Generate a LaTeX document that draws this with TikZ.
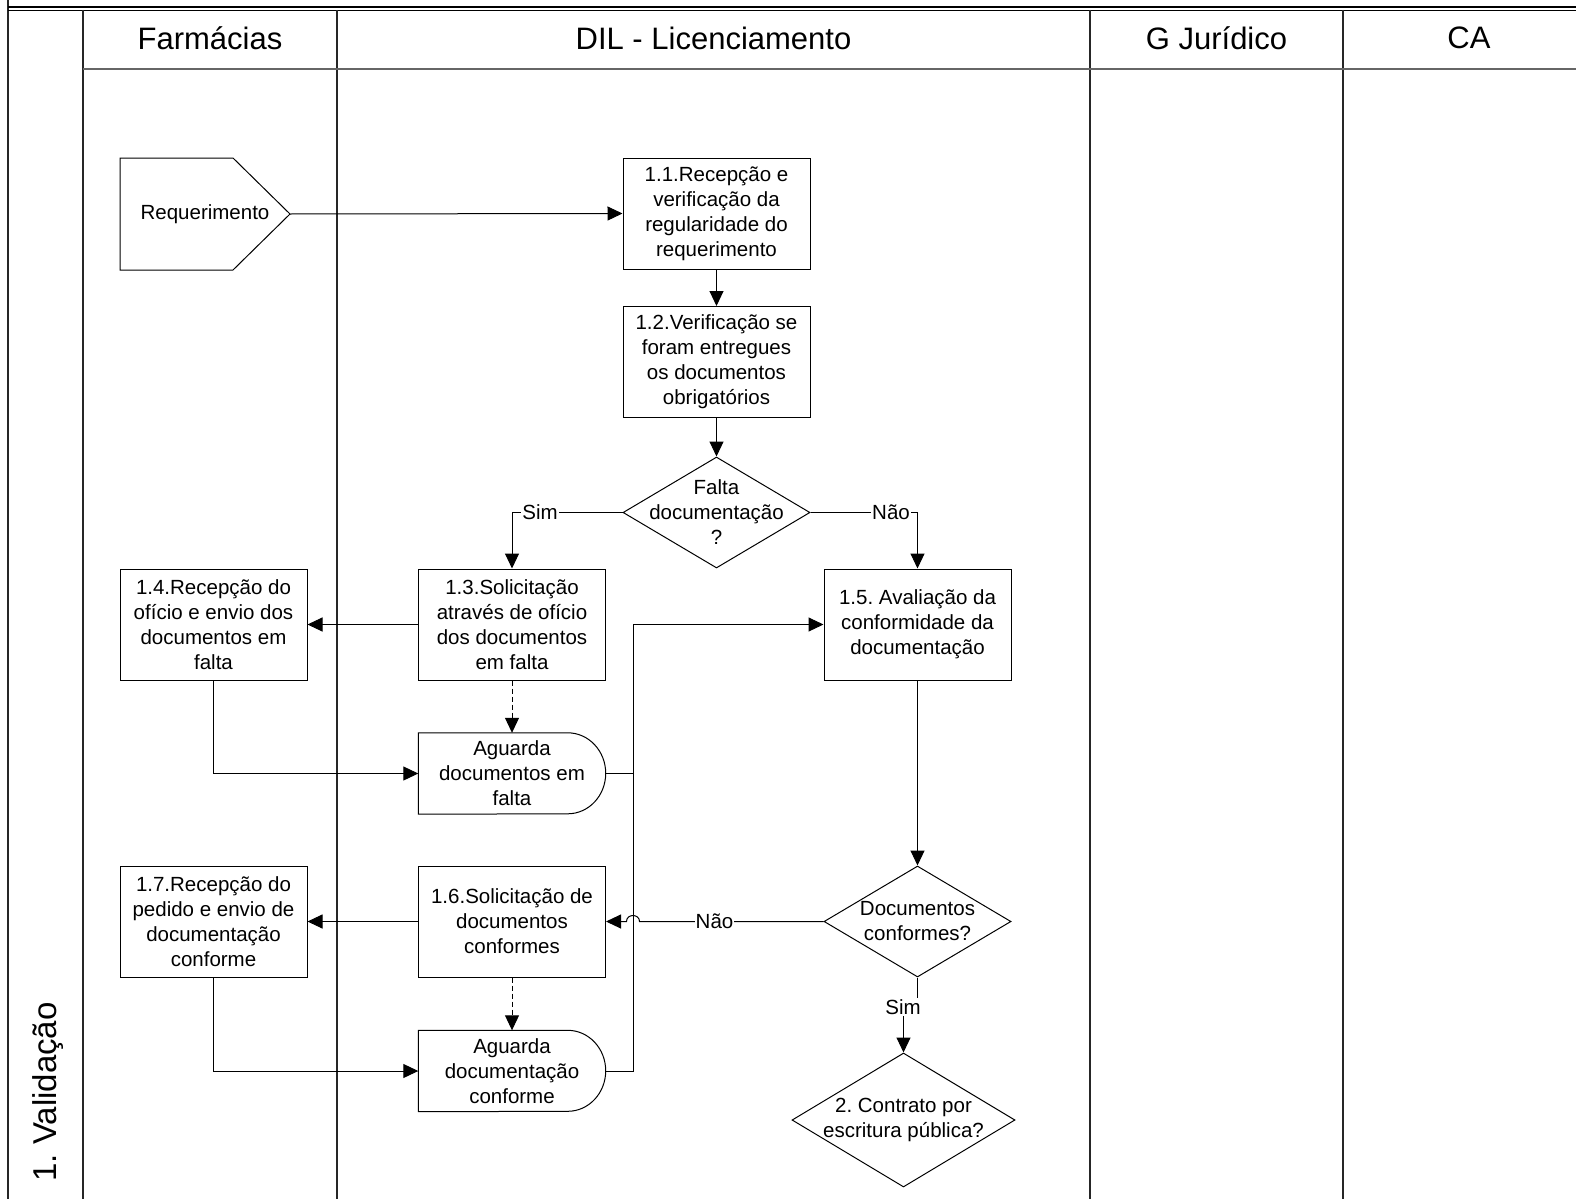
\documentclass[tikz,border=0pt]{standalone}
\usepackage{fontspec}
\setmainfont{Liberation Sans}
\usetikzlibrary{arrows.meta,shapes.geometric,calc}
\frenchspacing
\begin{document}
\begin{tikzpicture}[x=1pt,y=-1pt,line join=miter,
  txt/.style={font=\fontsize{20.5}{25}\selectfont\frenchspacing,align=center},
  hdr/.style={font=\fontsize{31}{37}\selectfont},
  box/.style={txt,draw,line width=1pt,minimum width=187pt,minimum height=111pt,inner sep=0pt},
  wbox/.style={txt,minimum width=187pt,minimum height=81pt,inner sep=0pt},
  dia/.style={draw,diamond,line width=1pt,inner sep=0pt},
  shp/.style={draw,line width=1pt},
  lanel/.style={draw=black!85,line width=1.8pt},
  conn/.style={line width=1pt},
  arr/.style={conn,-{Triangle[length=15pt,width=14pt]}},
  dsh/.style={arr,dash pattern=on 5pt off 3pt},
  lbl/.style={txt,fill=white,inner sep=1pt}
]
\useasboundingbox (0,0) rectangle (1576,1199);
% frame and lanes
\draw[lanel] (8,0) -- (8,1199);
\draw[line width=1.3pt] (8,7) -- (1576,7);
\draw[line width=1.3pt] (8,10.5) -- (1576,10.5);
\draw[lanel] (83,10) -- (83,1199);
\draw[lanel] (337,10) -- (337,1199);
\draw[lanel] (1090,10) -- (1090,1199);
\draw[lanel] (1343,10) -- (1343,1199);
\draw[draw=black!60,line width=2pt] (83,69) -- (1576,69);
\node[hdr] (hF) at (210,38) {Farmácias};
\node[hdr] (hD) at (713.5,38) {DIL - Licenciamento};
\node[hdr] (hG) at (1216.5,38) {G Jurídico};
\node[hdr] (hC) at (1469,38) {CA};
\node[font=\fontsize{33}{38}\selectfont,rotate=90,anchor=base west] (val) at (56,1185) {1. Validação};

% Requerimento
\draw[shp] (120,158) -- (233,158) -- (290,214) -- (233,270) -- (120,270) -- cycle;
\node[txt] (req) at (205,214) {Requerimento};
\coordinate (reqtip) at (290,214);

% boxes
\node[box] (b11) at (716.5,213.5) {1.1.Recepção e\\verificação da\\regularidade do\\requerimento};
\node[box] (b12) at (716.5,362) {1.2.Verificação se\\foram entregues\\os documentos\\obrigatórios};
\node[dia,minimum width=187pt,minimum height=111pt] (d1) at (716.5,512.5) {};
\node[txt] (d1t) at (d1) {Falta\\documentação\\?};
\node[box] (b13) at (512,624.5) {1.3.Solicitação\\através de ofício\\dos documentos\\em falta};
\node[box] (b14) at (213.5,624.5) {1.4.Recepção do\\ofício e envio dos\\documentos em\\falta};
\node[box] (b15) at (917.5,624.5) {1.5. Avaliação da\\conformidade da\\documentação};
\node[wbox] (w1) at (512,773.5) {Aguarda\\documentos em\\falta};
\draw[shp] (w1.north west) -- ([xshift=-38pt]w1.north east)
  arc[start angle=90,end angle=-90,x radius=38pt,y radius=40.5pt]
  -- (w1.south west) -- cycle;
\node[box] (b16) at (512,921.5) {1.6.Solicitação de\\documentos\\conformes};
\node[box] (b17) at (213.5,921.5) {1.7.Recepção do\\pedido e envio de\\documentação\\conforme};
\node[dia,minimum width=187pt,minimum height=111pt] (d2) at (917.5,921.5) {};
\node[txt] (d2t) at (d2) {Documentos\\conformes?};
\node[wbox] (w2) at (512,1071) {Aguarda\\documentação\\conforme};
\draw[shp] (w2.north west) -- ([xshift=-38pt]w2.north east)
  arc[start angle=90,end angle=-90,x radius=38pt,y radius=40.5pt]
  -- (w2.south west) -- cycle;
\node[dia,minimum width=223pt,minimum height=134pt] (d3) at (903.5,1120) {};
\node[txt] (d3t) at (d3) {2. Contrato por\\escritura pública?};

% connectors
\coordinate (bus) at (633,624.5);
\draw[arr] (reqtip) -- (b11.west);
\draw[arr] (b11.south) -- (b12.north);
\draw[arr] (b12.south) -- (d1.north);
\draw[arr] (d1.west) -| (b13.north);
\node[lbl] (lsim1) at (540,512.5) {Sim};
\draw[arr] (d1.east) -| (b15.north);
\node[lbl] (lnao1) at (891,512.5) {Não};
\draw[arr] (b13.west) -- (b14.east);
\draw[dsh] (b13.south) -- (w1.north);
\draw[arr] (b14.south) |- (w1.west);
\draw[arr] (w1.east) -| (bus) -- (b15.west);
\draw[conn] (w2.east) -| (bus);
\draw[arr] (b15.south) -- (d2.north);
\coordinate (jp) at (bus |- d2.west);
\draw[arr] (d2.west) -- ([xshift=6.5pt]jp)
  .. controls ([xshift=6.5pt,yshift=8pt]jp) and ([xshift=-6.5pt,yshift=8pt]jp) .. ([xshift=-6.5pt]jp)
  -- (b16.east);
\node[lbl] (lnao2) at (714.5,921.5) {Não};
\draw[arr] (b16.west) -- (b17.east);
\draw[dsh] (b16.south) -- (w2.north);
\draw[arr] (b17.south) |- (w2.west);
\draw[arr] (d2.south) -- ++(0,31) -| (d3.north);
\node[lbl] (lsim2) at (903,1007) {Sim};
\end{tikzpicture}
\end{document}
